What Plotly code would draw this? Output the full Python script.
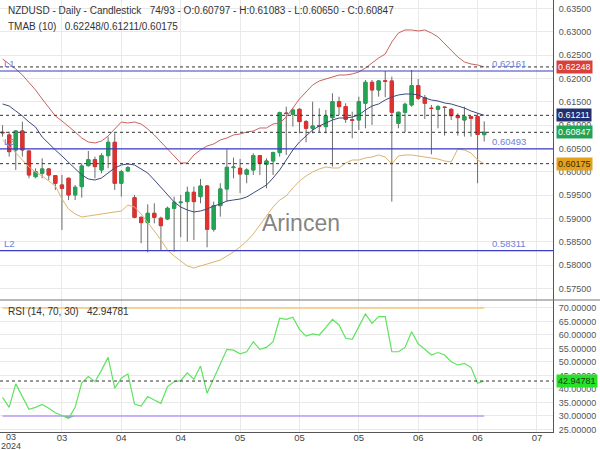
import plotly.graph_objects as go
from plotly.subplots import make_subplots
import numpy as np

# ---------------------------------------------------
# data (NZDUSD daily)
# ---------------------------------------------------
opens = [0.60848, 0.60790, 0.60469, 0.60876, 0.60447, 0.59897, 0.59969, 0.60062, 0.59919, 0.59719,
         0.59862, 0.59505, 0.59683, 0.60133, 0.60261, 0.60040, 0.60347, 0.60633, 0.59755, 0.60019,
         0.59447, 0.59026, 0.58912, 0.59112, 0.59005, 0.58990, 0.59219, 0.59340, 0.59362, 0.59562,
         0.59469, 0.59697, 0.58769, 0.59276, 0.59633, 0.60090, 0.60076, 0.59947, 0.60040, 0.60347,
         0.60162, 0.60233, 0.60412, 0.61260, 0.61233, 0.61340, 0.61076, 0.60933, 0.60990, 0.60969,
         0.61161, 0.61504, 0.61397, 0.61115, 0.61111, 0.61469, 0.61918, 0.61754, 0.61950, 0.61947,
         0.61040, 0.61276, 0.61433, 0.61847, 0.61590, 0.61365, 0.61340, 0.61387, 0.61340, 0.61204,
         0.61111, 0.61183, 0.61183, 0.60797]
highs = [0.61000, 0.60861, 0.60897, 0.61076, 0.60455, 0.60076, 0.60290, 0.60076, 0.59933, 0.59933,
         0.59876, 0.59719, 0.60183, 0.60447, 0.60326, 0.60397, 0.60754, 0.60826, 0.60040, 0.60126,
         0.59505, 0.59040, 0.59304, 0.59326, 0.59040, 0.59255, 0.59469, 0.59505, 0.59683, 0.59683,
         0.59847, 0.59719, 0.59362, 0.59755, 0.60483, 0.60304, 0.60276, 0.60076, 0.60397, 0.60362,
         0.60290, 0.60433, 0.61290, 0.61397, 0.61361, 0.61361, 0.61111, 0.61504, 0.61361, 0.61326,
         0.61683, 0.61611, 0.61469, 0.61290, 0.61611, 0.61969, 0.61969, 0.61969, 0.62161, 0.62040,
         0.61290, 0.61483, 0.62183, 0.61990, 0.61647, 0.61433, 0.61433, 0.61397, 0.61361, 0.61254,
         0.61397, 0.61190, 0.61254, 0.61083]
lows = [0.60755, 0.60326, 0.60040, 0.60326, 0.59862, 0.59862, 0.59862, 0.59826, 0.59612, 0.58755,
        0.59397, 0.59397, 0.59447, 0.60112, 0.59862, 0.59969, 0.60076, 0.59612, 0.59469, 0.60004,
        0.59005, 0.58469, 0.58276, 0.58897, 0.58326, 0.58969, 0.58290, 0.58600, 0.58505, 0.58540,
        0.59326, 0.58383, 0.58719, 0.59040, 0.59362, 0.59862, 0.59541, 0.59755, 0.59933, 0.59933,
        0.59647, 0.59933, 0.60326, 0.60362, 0.60969, 0.60826, 0.60633, 0.60826, 0.60847, 0.60826,
        0.60112, 0.61219, 0.61050, 0.60719, 0.60897, 0.60933, 0.61004, 0.61611, 0.61600, 0.59362,
        0.60933, 0.60847, 0.61397, 0.61540, 0.61133, 0.60376, 0.60933, 0.60776, 0.61111, 0.60776,
        0.60754, 0.60754, 0.59755, 0.60650]
closes = [0.60838, 0.60433, 0.60876, 0.60469, 0.59933, 0.60004, 0.60062, 0.59933, 0.59755, 0.59647,
          0.59505, 0.59669, 0.60126, 0.60261, 0.60112, 0.60347, 0.60633, 0.59755, 0.60004, 0.60090,
          0.59026, 0.58912, 0.59112, 0.59026, 0.58847, 0.59219, 0.59347, 0.59350, 0.59562, 0.59362,
          0.59697, 0.58769, 0.59276, 0.59633, 0.60097, 0.60100, 0.59954, 0.60040, 0.60347, 0.60183,
          0.60233, 0.60412, 0.61269, 0.61250, 0.61326, 0.61076, 0.60933, 0.60983, 0.60980, 0.61197,
          0.61504, 0.61397, 0.61126, 0.61105, 0.61504, 0.61918, 0.61754, 0.61947, 0.61940, 0.61276,
          0.61276, 0.61447, 0.61847, 0.61576, 0.61469, 0.61357, 0.61397, 0.61380, 0.61204, 0.61161,
          0.61183, 0.61147, 0.60800, 0.60847]

# TMA bands (10)
tma_upper = [0.62418, 0.62311, 0.62204, 0.62075, 0.61925, 0.61754, 0.61561, 0.61368, 0.61197, 0.61090,
             0.60982, 0.60854, 0.60725, 0.60640, 0.60618, 0.60661, 0.60768, 0.60918, 0.61068, 0.61047,
             0.61068, 0.61025, 0.60918, 0.60790, 0.60640, 0.60468, 0.60318, 0.60190, 0.60190, 0.60361,
             0.60468, 0.60554, 0.60597, 0.60683, 0.60725, 0.60790, 0.60811, 0.60854, 0.60875, 0.60940,
             0.60940, 0.61025, 0.61047, 0.61175, 0.61368, 0.61561, 0.61711, 0.61861, 0.61947, 0.61990,
             0.62032, 0.62075, 0.62075, 0.62097, 0.62140, 0.62225, 0.62332, 0.62440, 0.62525, 0.62782,
             0.62975, 0.63040, 0.63040, 0.63018, 0.63040, 0.62975, 0.62890, 0.62740, 0.62611, 0.62461,
             0.62354, 0.62311, 0.62290, 0.62248]
tma_mid = [0.61454, 0.61411, 0.61304, 0.61197, 0.61068, 0.60961, 0.60747, 0.60597, 0.60468, 0.60340,
           0.60211, 0.60083, 0.59933, 0.59847, 0.59825, 0.59868, 0.59975, 0.60083, 0.60147, 0.60168,
           0.60147, 0.60061, 0.59975, 0.59825, 0.59675, 0.59504, 0.59354, 0.59247, 0.59183, 0.59140,
           0.59161, 0.59204, 0.59268, 0.59311, 0.59375, 0.59397, 0.59418, 0.59461, 0.59547, 0.59633,
           0.59718, 0.59868, 0.60040, 0.60254, 0.60468, 0.60640, 0.60768, 0.60897, 0.60982, 0.61047,
           0.61111, 0.61154, 0.61154, 0.61175, 0.61218, 0.61325, 0.61411, 0.61454, 0.61540, 0.61604,
           0.61647, 0.61668, 0.61668, 0.61647, 0.61582, 0.61540, 0.61518, 0.61475, 0.61454, 0.61411,
           0.61368, 0.61304, 0.61261, 0.61211]
tma_lower = [0.60683, 0.60554, 0.60404, 0.60254, 0.60104, 0.59997, 0.59911, 0.59804, 0.59697, 0.59418,
             0.59204, 0.59097, 0.59033, 0.59054, 0.59075, 0.59097, 0.59118, 0.59140, 0.59161, 0.59290,
             0.59247, 0.59097, 0.58926, 0.58733, 0.58540, 0.58326, 0.58197, 0.58090, 0.57983, 0.57940,
             0.57983, 0.58025, 0.58068, 0.58111, 0.58197, 0.58283, 0.58390, 0.58518, 0.58668, 0.58861,
             0.59033, 0.59247, 0.59397, 0.59483, 0.59654, 0.59804, 0.59911, 0.59997, 0.60061, 0.60104,
             0.60083, 0.60083, 0.60190, 0.60254, 0.60254, 0.60297, 0.60318, 0.60361, 0.60318, 0.60168,
             0.60340, 0.60361, 0.60361, 0.60340, 0.60318, 0.60297, 0.60275, 0.60233, 0.60211, 0.60490,
             0.60468, 0.60404, 0.60254, 0.60175]

# RSI (14, 70, 30)
rsi = [36.9, 33.2, 41.9, 37.2, 32.5, 33.2, 34.3, 32.9, 31.2, 30.2,
       29.1, 33.2, 42.3, 44.6, 42.7, 47.0, 51.7, 40.3, 44.0, 45.6,
       34.4, 33.7, 37.2, 35.9, 34.7, 40.9, 42.7, 43.1, 46.0, 43.6,
       48.5, 38.4, 44.0, 49.3, 54.7, 54.4, 53.0, 53.8, 57.5, 54.7,
       55.4, 57.5, 66.2, 65.8, 66.6, 62.1, 59.6, 60.4, 60.0, 62.8,
       65.8, 63.7, 58.8, 58.4, 63.3, 67.8, 64.3, 66.8, 66.8, 53.8,
       53.8, 55.4, 61.2, 56.7, 54.7, 52.6, 53.5, 52.6, 50.1, 48.9,
       49.5, 48.0, 42.1, 42.94781]
rsi_levels = [70, 30]

# month ticks (bar index) and labels
month_ticks = [9, 18, 27, 36, 45, 54, 63, 72, 81]
month_labels = ["03", "04", "04", "05", "05", "05", "06", "06", "07"]
first_label = ["03", "2024"]

# horizontal levels
level_names = ["L1", "L3", "L2"]
level_values = [0.62161, 0.60493, 0.58311]
band_last = [tma_upper[-1], tma_mid[-1], tma_lower[-1]]

x = list(range(len(opens)))
n = len(x)

GREEN = "#23a455"
RED = "#e0312f"
WICK = "#6b6b6b"
GRID = "#e9e9e9"
FONT = "Liberation Sans, Arial, sans-serif"

fig = make_subplots(rows=2, cols=1, shared_xaxes=True, vertical_spacing=0)

# wicks
fig.add_trace(
    go.Candlestick(
        x=x, open=opens, high=highs, low=lows, close=closes,
        increasing=dict(line=dict(color=WICK, width=1), fillcolor=GREEN),
        decreasing=dict(line=dict(color=WICK, width=1), fillcolor=RED),
        whiskerwidth=0, showlegend=False, hoverinfo="skip",
    ),
    row=1, col=1,
)
# bodies drawn on top, so outlines keep body colour
body_hi = np.maximum(opens, closes)
body_lo = np.minimum(opens, closes)
fig.add_trace(
    go.Candlestick(
        x=x, open=opens, high=body_hi, low=body_lo, close=closes,
        increasing=dict(line=dict(color=GREEN, width=1), fillcolor=GREEN),
        decreasing=dict(line=dict(color=RED, width=1), fillcolor=RED),
        whiskerwidth=0, showlegend=False, name="NZDUSD",
    ),
    row=1, col=1,
)

# TMA bands
for vals, col in [(tma_upper, "#c8635e"), (tma_mid, "#3c4a7d"), (tma_lower, "#dcb36e")]:
    fig.add_trace(
        go.Scatter(x=x, y=vals, mode="lines", line=dict(color=col, width=1),
                   showlegend=False, hoverinfo="skip"),
        row=1, col=1,
    )

# RSI panel
fig.add_trace(
    go.Scatter(x=x, y=[rsi_levels[1]] * n, mode="lines",
               line=dict(color="#b79bf0", width=1.5), showlegend=False, hoverinfo="skip"),
    row=2, col=1,
)
fig.add_trace(
    go.Scatter(x=x, y=np.minimum(rsi, rsi_levels[1]), mode="lines", fill="tonexty",
               fillcolor="rgba(120,110,190,0.85)", line=dict(width=0),
               showlegend=False, hoverinfo="skip"),
    row=2, col=1,
)
fig.add_trace(
    go.Scatter(x=x, y=[rsi_levels[0]] * n, mode="lines",
               line=dict(color="#f6c47e", width=1.5), showlegend=False, hoverinfo="skip"),
    row=2, col=1,
)
fig.add_trace(
    go.Scatter(x=x, y=rsi, mode="lines", line=dict(color="#5fe35f", width=1.2),
               showlegend=False, name="RSI"),
    row=2, col=1,
)

# level lines
for v in level_values:
    fig.add_hline(y=v, line=dict(color="#3b3bc4", width=1.2), row=1, col=1)
for v in band_last + [closes[-1]]:
    fig.add_hline(y=v, line=dict(color="#333333", width=1, dash="3px,3px"), row=1, col=1)
fig.add_hline(y=rsi[-1], line=dict(color="#333333", width=1, dash="3px,3px"), row=2, col=1)

# separator between panels
split = 132 / 432
fig.add_shape(type="line", xref="paper", yref="paper", x0=0, x1=1.09, y0=split, y1=split,
              line=dict(color="#777777", width=1))

ann = []
# header texts
ann.append(dict(xref="paper", yref="paper", x=0, y=1, xshift=6, yshift=-3, xanchor="left", yanchor="top",
                text="NZDUSD - Daily - Candlestick&nbsp;&nbsp;&nbsp;74/93 - O:0.60797 - H:0.61083 - L:0.60650 - C:0.60847",
                showarrow=False, font=dict(size=10, color="#333")))
ann.append(dict(xref="paper", yref="paper", x=0, y=1, xshift=6, yshift=-19, xanchor="left", yanchor="top",
                text="TMAB (10)&nbsp;&nbsp;&nbsp;0.62248/0.61211/0.60175",
                showarrow=False, font=dict(size=10, color="#333")))
ann.append(dict(xref="paper", yref="paper", x=0, y=split, xshift=6, yshift=-4, xanchor="left", yanchor="top",
                text="RSI (14, 70, 30)&nbsp;&nbsp;&nbsp;42.94781",
                showarrow=False, font=dict(size=10, color="#333")))

# level labels
for name, v in zip(level_names, level_values):
    ann.append(dict(xref="paper", yref="y", x=0, y=v, xshift=2, xanchor="left", yanchor="bottom",
                    text=name, showarrow=False, font=dict(size=9.5, color="#6d80dc")))
    ann.append(dict(xref="x", yref="y", x=n - 0.1, y=v, xanchor="left", yanchor="bottom",
                    text=f"{v:.5f}", showarrow=False, font=dict(size=9.5, color="#6d80dc")))

# price tags on the right axis
tags = [(band_last[0], "#d9403c", "white"), (band_last[1], "#212f6e", "white"),
        (closes[-1], "#22a456", "white"), (band_last[2], "#e3a21c", "#3a2a00")]
for v, bg, fc in tags:
    ann.append(dict(xref="paper", yref="y", x=1, y=v, xshift=3, xanchor="left", yanchor="middle",
                    text=f"{v:.5f}", showarrow=False, bgcolor=bg, borderpad=1,
                    font=dict(size=9, color=fc)))
ann.append(dict(xref="paper", yref="y2", x=1, y=rsi[-1], xshift=3, xanchor="left", yanchor="middle",
                text=f"{rsi[-1]:.5f}", showarrow=False, bgcolor="#27e327", borderpad=1,
                font=dict(size=9, color="#1b3b1b")))

# first month label with year, as two stacked lines
for txt, dy in zip(first_label, [-4.5, -13.5]):
    ann.append(dict(xref="x", yref="paper", x=1.3, y=0, yshift=dy, xanchor="center", yanchor="middle",
                    text=txt, showarrow=False, font=dict(size=9, color="#444")))

# watermark
ann.append(dict(xref="x", yref="y", x=45.2, y=0.5891, text="Arincen", showarrow=False,
                font=dict(size=23, color="rgba(110,110,110,0.85)")))

fig.update_layout(
    width=600, height=450,
    margin=dict(l=0, r=47, t=0, b=18, autoexpand=False),
    paper_bgcolor="white", plot_bgcolor="white",
    font=dict(family=FONT, size=10, color="#333"),
    showlegend=False,
    annotations=ann,
    hovermode="x",
)

xr = [-0.39, 83.43]
fig.update_xaxes(range=xr, tickvals=month_ticks, ticktext=month_labels, showgrid=True,
                 gridcolor=GRID, gridwidth=1, zeroline=False, rangeslider_visible=False,
                 tickfont=dict(size=9.5, color="#444"), ticks="", automargin=False,
                 ticklabelstandoff=-3)
fig.update_xaxes(showticklabels=False, showline=False, row=1, col=1)
fig.update_xaxes(showline=True, linecolor="#555", linewidth=1, row=2, col=1)

fig.update_layout(
    yaxis=dict(domain=[split, 1], range=[0.57254, 0.63682], side="right", dtick=0.005,
               tick0=0.575, tickformat=".5f", showgrid=True, gridcolor=GRID, zeroline=False,
               showline=True, linecolor="#555", linewidth=1, ticks="", automargin=False,
               tickfont=dict(size=9, color="#555"), ticklabelstandoff=3),
    yaxis2=dict(domain=[0, split], range=[24.07, 72.96], side="right", dtick=5, tick0=25,
                tickformat=".5f", showgrid=True, gridcolor=GRID, zeroline=False,
                showline=True, linecolor="#555", linewidth=1, ticks="", automargin=False,
                tickfont=dict(size=9, color="#555"), ticklabelstandoff=3),
)

# the page body has an 8px default margin; drop it so the figure sits at the window's corner
fig.write_html("out.html", config={"displayModeBar": False},
               post_script="document.body.style.margin='0px';")
